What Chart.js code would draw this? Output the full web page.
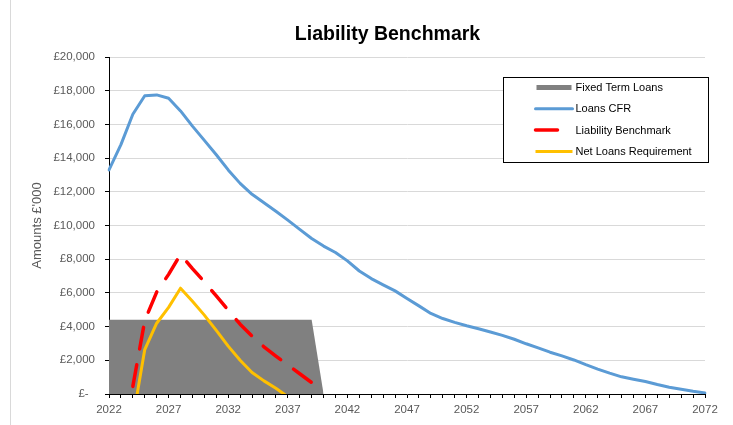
<!DOCTYPE html>
<html>
<head>
<meta charset="utf-8">
<title>Liability Benchmark</title>
<script src="https://cdn.jsdelivr.net/npm/chart.js@4/dist/chart.umd.min.js"></script>
<style>
  html, body { margin: 0; padding: 0; background: #ffffff; }
  #wrap { width: 733px; height: 425px; position: relative; }
</style>
</head>
<body>
<div id="wrap"><canvas id="chart" width="733" height="425"></canvas></div>
<script>
// Financial years on the category axis
const years = [
  '2022','2023','2024','2025','2026','2027','2028','2029','2030','2031',
  '2032','2033','2034','2035','2036','2037','2038','2039','2040','2041',
  '2042','2043','2044','2045','2046','2047','2048','2049','2050','2051',
  '2052','2053','2054','2055','2056','2057','2058','2059','2060','2061',
  '2062','2063','2064','2065','2066','2067','2068','2069','2070','2071',
  '2072'
];

// Amounts in £'000
const fixedTermLoans = [
  4400, 4400, 4400, 4400, 4400, 4400, 4400, 4400, 4400, 4400,
  4400, 4400, 4400, 4400, 4400, 4400, 4400, 4400, 0, null,
  null, null, null, null, null, null, null, null, null, null,
  null, null, null, null, null, null, null, null, null, null,
  null, null, null, null, null, null, null, null, null, null,
  null
];

const loansCFR = [
  13300, 14800, 16600, 17700, 17750, 17550, 16800, 15900, 15050, 14200,
  13300, 12500, 11850, 11350, 10850, 10320, 9770, 9230, 8780, 8400,
  7900, 7300, 6850, 6480, 6120, 5670, 5230, 4780, 4480, 4250,
  4050, 3870, 3680, 3480, 3250, 2980, 2740, 2480, 2260, 2020,
  1740, 1480, 1240, 1020, 880, 740, 560, 400, 280, 160,
  60
];

const liabilityBenchmark = [
  null, null, 450, 4350, 6050, 7100, 8280, 7440, 6660, 5820,
  4980, 4140, 3440, 2800, 2250, 1720, 1200, 680, 200, null,
  null, null, null, null, null, null, null, null, null, null,
  null, null, null, null, null, null, null, null, null, null,
  null, null, null, null, null, null, null, null, null, null,
  null
];

const netLoansRequirement = [
  null, null, -1500, 2640, 4200, 5140, 6280, 5500, 4680, 3780,
  2840, 2000, 1280, 780, 340, -160, null, null, null, null,
  null, null, null, null, null, null, null, null, null, null,
  null, null, null, null, null, null, null, null, null, null,
  null, null, null, null, null, null, null, null, null, null,
  null
];

// Value axis ticks
const yMin = 0;
const yMax = 20000;
const yStep = 2000;

const chartTitle = 'Liability Benchmark';
const FONT = "'Liberation Sans', Arial, sans-serif";
const AXIS_TEXT = '#595959';

function formatPounds(v) {
  if (v === 0) return '£-  ';
  return '£' + v.toLocaleString('en-GB');
}

// Frame line on the left and the chart heading
const frameAndHeading = {
  id: 'frameAndHeading',
  beforeDraw(chart) {
    const ctx = chart.ctx;
    ctx.save();
    ctx.strokeStyle = '#d9d9d9';
    ctx.lineWidth = 1;
    ctx.beginPath();
    ctx.moveTo(10.5, 0);
    ctx.lineTo(10.5, chart.height);
    ctx.stroke();
    ctx.restore();
  },
  afterDraw(chart) {
    const ctx = chart.ctx;
    ctx.save();
    ctx.font = 'bold 19.5px ' + FONT;
    ctx.fillStyle = '#000000';
    ctx.textAlign = 'center';
    ctx.textBaseline = 'alphabetic';
    ctx.fillText(chartTitle, chart.width / 2 + 21, 39.5);
    ctx.restore();
  }
};

// Boxed legend inside the plot, top-right
const boxedLegend = {
  id: 'boxedLegend',
  afterDatasetsDraw(chart) {
    const { ctx, chartArea } = chart;
    const w = 205, h = 85;
    const x = Math.round(chartArea.right - 202) + 0.5;
    const y = Math.round(chartArea.top + 20) + 0.5;
    ctx.save();
    ctx.fillStyle = '#ffffff';
    ctx.fillRect(x, y, w, h);
    ctx.strokeStyle = '#000000';
    ctx.lineWidth = 1;
    ctx.strokeRect(x, y, w, h);

    const sx0 = x + 32, sx1 = x + 69, tx = x + 72;
    const rowGap = 21.3;
    ctx.font = '11px ' + FONT;
    ctx.textBaseline = 'middle';
    ctx.textAlign = 'left';

    chart.data.datasets.forEach((ds, i) => {
      const ry = y + 10 + i * rowGap;
      if (ds.fill) {
        ctx.fillStyle = ds.backgroundColor;
        ctx.fillRect(sx0 + 1, ry - 2.5, sx1 - sx0 - 2, 5);
      } else {
        ctx.strokeStyle = ds.borderColor;
        ctx.lineWidth = ds.borderWidth;
        ctx.lineCap = ds.borderCapStyle || 'butt';
        ctx.setLineDash(ds.borderDash || []);
        ctx.beginPath();
        ctx.moveTo(sx0, ry);
        ctx.lineTo(sx1, ry);
        ctx.stroke();
        ctx.setLineDash([]);
      }
      ctx.fillStyle = '#000000';
      ctx.fillText(ds.label, tx, ry + 0.5);
    });
    ctx.restore();
  }
};

new Chart(document.getElementById('chart'), {
  type: 'line',
  data: {
    labels: years,
    datasets: [
      {
        label: 'Fixed Term Loans',
        data: fixedTermLoans,
        backgroundColor: '#808080',
        borderColor: '#808080',
        borderWidth: 0,
        fill: 'origin',
        pointRadius: 0,
        tension: 0,
        order: 4
      },
      {
        label: 'Loans CFR',
        data: loansCFR,
        borderColor: '#5B9BD5',
        backgroundColor: '#5B9BD5',
        borderWidth: 3,
        borderCapStyle: 'round',
        borderJoinStyle: 'round',
        fill: false,
        pointRadius: 0,
        tension: 0,
        order: 3
      },
      {
        label: 'Liability Benchmark',
        data: liabilityBenchmark,
        borderColor: '#FF0000',
        backgroundColor: '#FF0000',
        borderWidth: 3.5,
        borderDash: [22, 16],
        borderCapStyle: 'round',
        borderJoinStyle: 'round',
        fill: false,
        pointRadius: 0,
        tension: 0,
        order: 2
      },
      {
        label: 'Net Loans Requirement',
        data: netLoansRequirement,
        borderColor: '#FFC000',
        backgroundColor: '#FFC000',
        borderWidth: 3,
        borderJoinStyle: 'round',
        fill: false,
        pointRadius: 0,
        tension: 0,
        clip: 0,
        order: 1
      }
    ]
  },
  options: {
    responsive: false,
    devicePixelRatio: 1,
    animation: false,
    events: [],
    layout: { padding: { left: 28, right: 28, top: 57, bottom: 0 } },
    plugins: {
      legend: { display: false },
      tooltip: { enabled: false },
      title: { display: false }
    },
    scales: {
      x: {
        type: 'category',
        offset: false,
        grid: {
          display: true,
          drawOnChartArea: false,
          drawTicks: true,
          tickLength: 4,
          tickColor: '#000000'
        },
        border: { display: true, color: '#000000', width: 1 },
        ticks: {
          autoSkip: false,
          maxRotation: 0,
          minRotation: 0,
          padding: 5,
          color: AXIS_TEXT,
          font: { family: FONT, size: 11.5 },
          callback(value, index) {
            return index % 5 === 0 ? years[index] : '';
          }
        },
        afterFit(scale) { scale.height = 31; }
      },
      y: {
        min: yMin,
        max: yMax,
        grid: {
          color: (c) => (c.tick && c.tick.value === 0 ? 'rgba(0,0,0,0)' : '#d9d9d9'),
          lineWidth: 1,
          drawTicks: true,
          tickLength: 4,
          tickColor: '#000000'
        },
        border: { display: true, color: '#000000', width: 1 },
        ticks: {
          stepSize: yStep,
          padding: 10,
          color: AXIS_TEXT,
          font: { family: FONT, size: 11.5 },
          callback: (v) => formatPounds(v)
        },
        title: {
          display: true,
          text: "Amounts £'000",
          color: AXIS_TEXT,
          font: { family: FONT, size: 13 },
          padding: { top: 2, bottom: 2 }
        },
        afterFit(scale) { scale.width = 81; }
      }
    }
  },
  plugins: [frameAndHeading, boxedLegend]
});
</script>
</body>
</html>
